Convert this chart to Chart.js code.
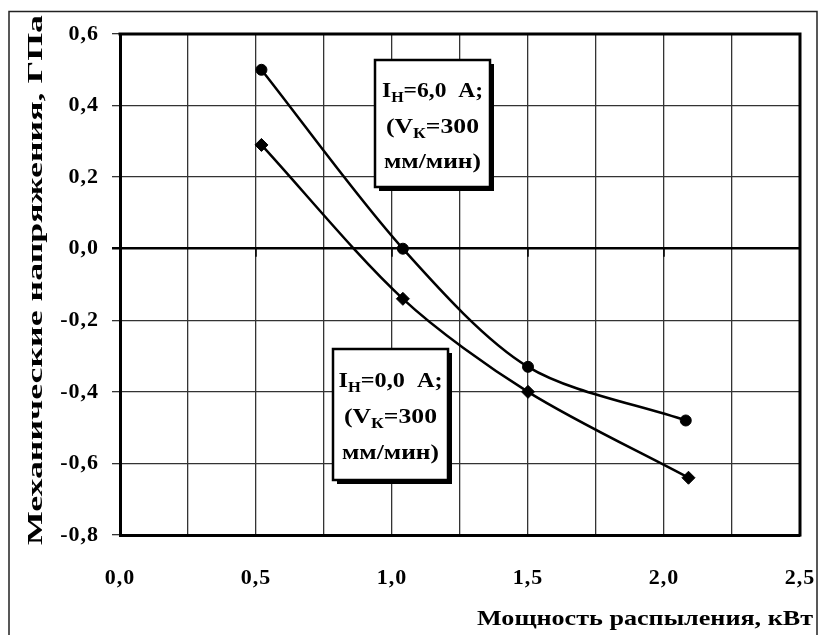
<!DOCTYPE html>
<html><head><meta charset="utf-8">
<script src="https://cdn.jsdelivr.net/npm/chart.js@4/dist/chart.umd.min.js"></script>
<style>html,body{margin:0;padding:0;background:#fff}</style>
</head><body>
<canvas id="c" width="820" height="635"></canvas>
<script>
// ---- data ----
const power6 = [0.52, 1.04, 1.50, 2.08];      // kW, I_H = 6,0 A
const stress6 = [0.50, 0.00, -0.33, -0.48];   // GPa
const power0 = [0.52, 1.04, 1.50, 2.09];      // kW, I_H = 0,0 A
const stress0 = [0.29, -0.14, -0.40, -0.64];  // GPa
const xTickLabels = ['0,0', '', '0,5', '', '1,0', '', '1,5', '', '2,0', '', '2,5'];
const yTickLabels = ['-0,8', '-0,6', '-0,4', '-0,2', '0,0', '0,2', '0,4', '0,6'];
const xTitle = 'Мощность распыления, кВт';
const yTitle = 'Механические напряжения, ГПа';
const note6 = [[['I'], ['Н', 1], ['=6,0  А;']], [['(V'], ['К', 1], ['=300']], [['мм/мин)']]];
const note0 = [[['I'], ['Н', 1], ['=0,0  А;']], [['(V'], ['К', 1], ['=300']], [['мм/мин)']]];

const FAM = '"Liberation Serif", "Times New Roman", serif';
function fnt(sz) { return 'bold ' + sz + 'px ' + FAM; }

// draw a line of segments centred on x (or right-aligned), stretched to a target width
function drawSegs(ctx, segs, x, base, size, target, align) {
  let w = 0;
  const ms = segs.map(s => { ctx.font = fnt(s[1] ? size * 0.68 : size); const m = ctx.measureText(s[0]).width; w += m; return m; });
  const k = target ? target / w : 1;
  const x0 = align === 'right' ? x - w * k : (align === 'left' ? x : x - w * k / 2);
  ctx.save();
  ctx.translate(x0, base);
  ctx.scale(k, 1);
  ctx.fillStyle = '#000';
  ctx.textBaseline = 'alphabetic';
  ctx.textAlign = 'left';
  let p = 0;
  segs.forEach((s, i) => { ctx.font = fnt(s[1] ? size * 0.68 : size); ctx.fillText(s[0], p, s[1] ? size * 0.22 : 0); p += ms[i]; });
  ctx.restore();
}

function noteBox(ctx, lines, l, t, r, b, bases, widths) {
  ctx.save();
  ctx.fillStyle = '#000';
  ctx.fillRect(l + 4, t + 4, r - l, b - t);
  ctx.fillStyle = '#fff';
  ctx.fillRect(l, t, r - l, b - t);
  ctx.strokeStyle = '#000';
  ctx.lineWidth = 2.5;
  ctx.strokeRect(l, t, r - l, b - t);
  ctx.restore();
  const cx = (l + r) / 2;
  lines.forEach((ln, i) => drawSegs(ctx, ln, cx, bases[i], 22, widths[i]));
}

const decor = {
  id: 'decor',
  beforeDraw(chart) {
    // slightly wider tick lettering, as in the reference
    if ('letterSpacing' in chart.ctx) chart.ctx.letterSpacing = '1px';
  },
  afterDraw(chart) {
    const ctx = chart.ctx;
    if ('letterSpacing' in ctx) ctx.letterSpacing = '0px';
    const a = chart.chartArea;
    const xs = chart.scales.x, ys = chart.scales.y;
    ctx.save();
    // outer frame (left, top, right)
    ctx.strokeStyle = '#222';
    ctx.lineWidth = 1.5;
    ctx.beginPath();
    ctx.moveTo(9, 640); ctx.lineTo(9, 11.5); ctx.lineTo(817, 11.5); ctx.lineTo(817, 640);
    ctx.stroke();
    // top and right borders of the plot area
    ctx.strokeStyle = '#000';
    ctx.lineWidth = 3;
    ctx.beginPath();
    ctx.moveTo(a.left - 1.5, a.top); ctx.lineTo(a.right, a.top); ctx.lineTo(a.right, a.bottom + 1.5);
    ctx.stroke();
    // small tick marks on the zero line
    const y0 = ys.getPixelForValue(0);
    ctx.lineWidth = 1.5;
    ctx.beginPath();
    [0.5, 1.0, 1.5, 2.0].forEach(v => { const px = xs.getPixelForValue(v); ctx.moveTo(px, y0); ctx.lineTo(px, y0 + 8); });
    ctx.stroke();
    ctx.restore();

    // annotation boxes
    noteBox(ctx, note6, 375, 60, 490, 187, [97, 133, 168], [101, 93, 97]);
    noteBox(ctx, note0, 333, 349, 448, 480, [387, 423, 459], [104, 93, 97]);

    // axis titles
    drawSegs(ctx, [[xTitle]], 813, 625, 22, 336, 'right');
    ctx.save();
    ctx.translate(42, 280);
    ctx.rotate(-Math.PI / 2);
    drawSegs(ctx, [[yTitle]], 0, 0, 22, 530);
    ctx.restore();
  }
};

const isZero = c => c.tick && Math.abs(c.tick.value) < 1e-9;

new Chart(document.getElementById('c'), {
  type: 'scatter',
  data: {
    datasets: [
      {
        data: power6.map((x, i) => ({ x, y: stress6[i] })),
        showLine: true, tension: 0.3, borderColor: '#000', borderWidth: 2.5,
        pointStyle: 'circle', pointRadius: 5.5, pointBackgroundColor: '#000', pointBorderColor: '#000', pointBorderWidth: 1
      },
      {
        data: power0.map((x, i) => ({ x, y: stress0[i] })),
        showLine: true, tension: 0.3, borderColor: '#000', borderWidth: 2.5,
        pointStyle: 'rectRot', pointRadius: 6.5, pointBackgroundColor: '#000', pointBorderColor: '#000', pointBorderWidth: 1
      }
    ]
  },
  options: {
    responsive: false, animation: false, devicePixelRatio: 1,
    layout: { padding: { left: 0, top: 34, right: 20, bottom: 0 } },
    plugins: { legend: { display: false }, tooltip: { enabled: false } },
    scales: {
      x: {
        type: 'linear', min: 0, max: 2.5,
        ticks: {
          stepSize: 0.25, autoSkip: false, maxRotation: 0, minRotation: 0,
          callback: (v, i) => xTickLabels[i],
          font: { family: FAM, weight: 'bold', size: 22 }, color: '#000', padding: 30
        },
        grid: { color: '#333', lineWidth: 1.3, drawTicks: false },
        border: { display: true, color: '#000', width: 3 },
        afterFit: s => { s.height = 100; s.paddingLeft = 0; s.paddingRight = 0; }
      },
      y: {
        type: 'linear', min: -0.8, max: 0.6,
        ticks: {
          stepSize: 0.2, callback: (v, i) => yTickLabels[i],
          font: { family: FAM, weight: 'bold', size: 22 }, color: '#000', padding: 13
        },
        grid: {
          color: c => isZero(c) ? '#000' : '#333',
          lineWidth: c => isZero(c) ? 2.5 : 1.3,
          tickLength: 8, drawTicks: true
        },
        border: { display: true, color: '#000', width: 3 },
        afterFit: s => { s.width = 120; s.paddingTop = 0; s.paddingBottom = 0; }
      }
    }
  },
  plugins: [decor]
});
</script>
</body></html>
